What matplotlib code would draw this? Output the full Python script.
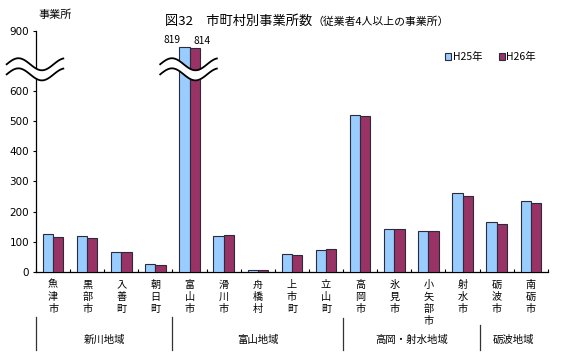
#!/usr/bin/env python3
# -*- coding: utf-8 -*-
"""
図32 市町村別事業所数（従業者4人以上の事業所）を out.png に描く。
"""

import numpy as np
import matplotlib
matplotlib.use("Agg")
import matplotlib.pyplot as plt
import matplotlib.transforms as mtransforms
from matplotlib.patches import Patch

plt.rcParams["font.family"] = ["Noto Sans CJK JP", "DejaVu Sans"]

# ============================================================================
# データ
# ============================================================================
市町村 = ["魚津市", "黒部市", "入善町", "朝日町", "富山市", "滑川市", "舟橋村", "上市町",
        "立山町", "高岡市", "氷見市", "小矢部市", "射水市", "砺波市", "南砺市"]
H25 = [124, 119, 66, 25, 819, 119, 6, 60, 72, 520, 142, 136, 261, 164, 235]
H26 = [116, 113, 66, 22, 814, 121, 5, 56, 75, 518, 142, 136, 253, 158, 229]

# 地域区分（先頭と末尾の市町村インデックス）
地域名 = ["新川地域", "富山地域", "高岡・射水地域", "砺波地域"]
地域範囲 = [(0, 3), (4, 8), (9, 12), (13, 14)]

Y目盛 = [0, 100, 200, 300, 400, 500, 600, 900]

COR_H25 = "#99CCFF"
COR_H26 = "#993366"
COR_BORDA = "#2b2b3b"


# 600 を超える部分は圧縮（省略線付きの軸）
def _forward(v):
    v = np.asarray(v, dtype=float)
    return np.where(v <= 600, v, 600 + (v - 600) * 2 / 3)


def _inverse(d):
    d = np.asarray(d, dtype=float)
    return np.where(d <= 600, d, 600 + (d - 600) * 1.5)


def 省略線(ax, xc, trans):
    """波線2本の間を白で塗りつぶす（x はデータ座標、y は軸座標）"""
    s = np.linspace(0, 1.66, 120)
    xs = xc - 0.86 + s
    onda = 0.025 * np.sin(2 * np.pi * s / 1.377)
    sup = 0.862 + onda
    inf = 0.820 + onda
    ax.fill_between(xs, inf, sup, color="white", transform=trans,
                    zorder=5, clip_on=False, linewidth=0)
    for y in (sup, inf):
        ax.plot(xs, y, color="black", lw=1.3, transform=trans,
                zorder=6, clip_on=False)


def main():
    fig = plt.figure(figsize=(5.77, 3.57), dpi=100)
    ax = fig.add_axes([0.0624, 0.239, 0.887, 0.674])

    x = np.arange(len(市町村))
    largura = 0.3
    ax.set_yscale("function", functions=(_forward, _inverse))
    b1 = ax.bar(x - largura / 2, H25, largura, color=COR_H25,
                edgecolor=COR_BORDA, linewidth=0.8, zorder=3)
    b2 = ax.bar(x + largura / 2, H26, largura, color=COR_H26,
                edgecolor=COR_BORDA, linewidth=0.8, zorder=3)

    ax.set_xlim(-0.5, len(市町村) - 0.5)
    ax.set_ylim(0, 900)
    ax.set_yticks(Y目盛)
    ax.set_yticklabels([str(v) for v in Y目盛], family="DejaVu Sans", fontsize=7.5)
    ax.tick_params(axis="y", direction="out", length=2, width=0.8, pad=3)

    # x 軸の目盛は区切り位置、ラベルは縦書きで自前に配置
    ax.set_xticks(np.arange(-0.5, len(市町村), 1.0))
    ax.set_xticklabels([])
    ax.tick_params(axis="x", direction="in", length=2.5, width=0.8)

    for s in ("top", "right"):
        ax.spines[s].set_visible(False)
    for s in ("left", "bottom"):
        ax.spines[s].set_linewidth(0.9)

    trans = mtransforms.blended_transform_factory(ax.transData, ax.transAxes)
    for i, nome in enumerate(市町村):
        ax.text(i, -0.033, "\n".join(nome), transform=trans, ha="center", va="top",
                fontsize=7.3, linespacing=1.25)

    # 地域区分
    inicio_sep = [-0.188, -0.188, -0.192, -0.222]
    for (a, b), nome, y0 in zip(地域範囲, 地域名, inicio_sep):
        ax.plot([a - 0.5, a - 0.5], [y0, -0.325], color="#333333", lw=0.9,
                transform=trans, clip_on=False)
        ax.text((a + b) / 2, -0.284, nome, transform=trans, ha="center",
                va="center", fontsize=7.5)

    # 富山市の値ラベル
    i_toyama = 市町村.index("富山市")
    ax.annotate(str(H25[i_toyama]), (b1[i_toyama].get_x() + largura / 2, H25[i_toyama]),
                xytext=(-9, 2), textcoords="offset points", ha="center", va="bottom",
                fontsize=7.3)
    ax.annotate(str(H26[i_toyama]), (b2[i_toyama].get_x() + largura / 2, H26[i_toyama]),
                xytext=(5, 2), textcoords="offset points", ha="center", va="bottom",
                fontsize=7.3)

    # 省略線（縦軸と富山市の棒）
    省略線(ax, -0.5, trans)
    省略線(ax, i_toyama, trans)

    # 凡例
    handles = [Patch(facecolor=COR_H25, edgecolor=COR_BORDA, linewidth=0.8, label="H25年"),
               Patch(facecolor=COR_H26, edgecolor=COR_BORDA, linewidth=0.8, label="H26年")]
    fig.legend(handles=handles, loc="center left", bbox_to_anchor=(0.772, 0.840),
               ncol=2, frameon=False, fontsize=7.5, handlelength=0.55, handleheight=0.55,
               handletextpad=0.15, columnspacing=1.6, borderpad=0, borderaxespad=0)

    # タイトル・単位
    fig.text(0.286, 0.930, "図32　市町村別事業所数", fontsize=9.5, va="baseline", ha="left")
    fig.text(0.542, 0.930, "（従業者4人以上の事業所）", fontsize=7.8, va="baseline", ha="left")
    fig.text(0.066, 0.958, "事業所", fontsize=8, va="center", ha="left")

    fig.savefig("out.png", dpi=100, facecolor="white")
    plt.close(fig)


if __name__ == "__main__":
    main()
